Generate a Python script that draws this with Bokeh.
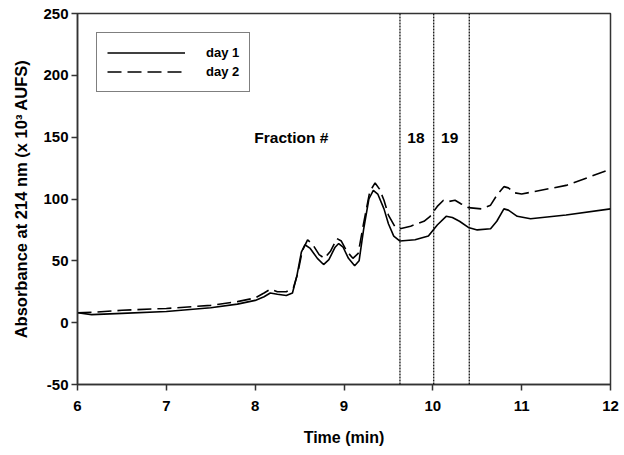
from bokeh.plotting import figure
from bokeh.models import Range1d, FixedTicker, Span, Legend, LegendItem, ColumnDataSource
from bokeh.core.properties import value
from bokeh.embed import file_html
from bokeh.resources import INLINE

# ---- data ----
day1_t = [6.0, 6.16, 6.5, 7.0, 7.5, 7.8, 8.0, 8.1, 8.17, 8.25, 8.35, 8.42, 8.47, 8.52, 8.56,
          8.62, 8.7, 8.77, 8.83, 8.9, 8.94, 8.99, 9.05, 9.12, 9.17, 9.22, 9.28, 9.33, 9.38,
          9.45, 9.5, 9.56, 9.63, 9.8, 9.95, 10.05, 10.15, 10.22, 10.3, 10.4, 10.5, 10.65,
          10.72, 10.8, 10.85, 10.95, 11.1, 11.5, 12.0]
day1_a = [8, 6.5, 7.5, 9, 12, 15, 18, 21, 24, 23, 22, 24, 38, 57, 63,
          60, 52, 47, 51, 61, 64, 61, 52, 46, 50, 75, 100, 107, 104,
          92, 80, 70, 66, 67, 70, 79, 86, 85, 82, 77, 75, 76,
          82, 92, 91, 86, 84, 87, 92]

day2_t = [6.0, 6.2, 6.5, 7.0, 7.5, 7.8, 8.0, 8.1, 8.17, 8.25, 8.35, 8.43, 8.48, 8.53, 8.59,
          8.65, 8.72, 8.78, 8.85, 8.92, 8.97, 9.03, 9.1, 9.16, 9.22, 9.29, 9.35, 9.4, 9.45,
          9.5, 9.57, 9.63, 9.75, 9.9, 9.97, 10.05, 10.12, 10.18, 10.25, 10.32, 10.4, 10.55,
          10.65, 10.72, 10.8, 10.85, 10.92, 11.0, 11.5, 12.0]
day2_a = [8, 8.5, 10, 11.5, 14, 17, 20, 24, 27, 25, 25, 28, 40, 58, 67,
          63, 55, 52, 58, 68, 66, 58, 52, 56, 80, 106, 113, 108, 99,
          87, 78, 76, 78, 82, 86, 94, 99, 98, 99, 96, 93, 92,
          95, 103, 110, 109, 105, 104, 111, 124]

fraction_bounds = [9.63, 10.01, 10.41]
fraction_labels = ["Fraction #", "18", "19"]
fraction_label_x = [7.99, 9.81, 10.19]
fraction_label_y = [149.5, 149.5, 149.5]
fraction_label_align = ["left", "center", "center"]

x_ticks = [6, 7, 8, 9, 10, 11, 12]
y_ticks = [-50, 0, 50, 100, 150, 200, 250]

FONT = "Liberation Sans"
AXC = "#333333"

p = figure(width=620, height=450, output_backend="svg", toolbar_location=None,
           x_range=Range1d(6, 12), y_range=Range1d(-50, 250),
           min_border_left=77, min_border_right=10, min_border_top=13, min_border_bottom=66)
p.xgrid.visible = False
p.ygrid.visible = False
p.outline_line_color = AXC
p.outline_line_width = 1.5

for ax in (p.xaxis[0], p.yaxis[0]):
    ax.axis_line_color = AXC
    ax.axis_line_width = 1.5
    ax.major_tick_line_color = AXC
    ax.major_tick_line_width = 1.5
    ax.major_tick_out = 6
    ax.major_tick_in = 0
    ax.minor_tick_line_color = None
    ax.major_label_text_font = FONT
    ax.major_label_text_font_style = "bold"
    ax.major_label_text_font_size = "15px"
    ax.major_label_text_color = "black"
    ax.axis_label_text_font = FONT
    ax.axis_label_text_font_style = "bold"
    ax.axis_label_text_font_size = "16px"
    ax.axis_label_text_color = "black"

p.xaxis.ticker = FixedTicker(ticks=x_ticks)
p.yaxis.ticker = FixedTicker(ticks=y_ticks)
p.yaxis.major_label_overrides = {-50: "-50"}
p.xaxis.axis_label = "Time (min)"
p.yaxis.axis_label = "Absorbance at 214 nm (x 10\u00b3 AUFS)"
p.yaxis.axis_label_text_font_size = "16.5px"
p.xaxis.major_label_standoff = 10
p.xaxis.axis_label_standoff = 15
p.yaxis.major_label_standoff = 3
p.yaxis.axis_label_standoff = 10

for xb in fraction_bounds:
    p.add_layout(Span(location=xb, dimension="height", line_color="black",
                      line_width=1.2, line_dash="2 1"))

r1 = p.line(day1_t, day1_a, line_color="black", line_width=1.6)
r2 = p.line(day2_t, day2_a, line_color="black", line_width=1.6, line_dash="14 6")

src = ColumnDataSource(dict(x=fraction_label_x, y=fraction_label_y, t=fraction_labels,
                            a=fraction_label_align))
p.text(x="x", y="y", text="t", source=src, text_align="a", text_baseline="middle",
       text_font=value(FONT), text_font_style="bold", text_font_size="15.5px",
       text_color="black")

legend = Legend(items=[LegendItem(label="day 1", renderers=[r1]),
                       LegendItem(label="day 2", renderers=[r2])],
                location=(19, 292))
legend.border_line_color = "black"
legend.border_line_width = 1.5
legend.background_fill_alpha = 0
legend.padding = 10
legend.margin = 0
legend.spacing = 0
legend.glyph_width = 78
legend.glyph_height = 19
legend.label_height = 19
legend.label_standoff = 21
legend.label_text_font = FONT
legend.label_text_font_style = "bold"
legend.label_text_font_size = "13px"
legend.label_text_color = "black"
p.add_layout(legend, "center")

open("out.html", "w").write(file_html(p, INLINE))
